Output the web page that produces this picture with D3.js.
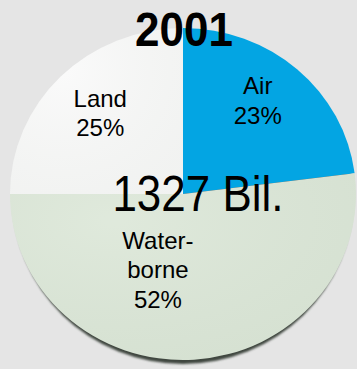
<!DOCTYPE html>
<html>
<head>
<meta charset="utf-8">
<script src="https://cdn.jsdelivr.net/npm/d3@7"></script>
<style>
  html, body { margin: 0; padding: 0; background: #e5e5e5; }
  svg { display: block; }
  text { font-family: "Liberation Sans", Arial, sans-serif; fill: #000; }
</style>
</head>
<body>
<svg id="chart" width="357" height="369"></svg>
<script>
// Freight modal split, 2001
const year = "2001";
const total = "1327 Bil.";
const modes = ["Air", "Waterborne", "Land"];
const shares = [23, 52, 25];
const labelLines = [["Air", "23%"], ["Water-", "borne", "52%"], ["Land", "25%"]];
const colors = ["#03a5e3", "#dce7d8", "#fafafa"];

const W = 357, H = 369;
const cx = 183, cy = 194, rx = 173, ry = 166;

const svg = d3.select("#chart");
const defs = svg.append("defs");

defs.append("filter").attr("id", "edgeShadow")
  .attr("x", "-10%").attr("y", "-10%").attr("width", "120%").attr("height", "120%")
  .append("feGaussianBlur").attr("stdDeviation", 1.1);

// faint shading on the pale slices
const shade = defs.append("radialGradient").attr("id", "shade")
  .attr("cx", "30%").attr("cy", "25%").attr("r", "85%");
shade.append("stop").attr("offset", "0%").attr("stop-color", "#ffffff").attr("stop-opacity", 0.1);
shade.append("stop").attr("offset", "100%").attr("stop-color", "#7f8f7c").attr("stop-opacity", 0.07);

const pie = d3.pie().sort(null).value(d => d)(shares);
const arc = d3.arc().innerRadius(0).outerRadius(rx);

// shadow under the disc
svg.append("ellipse")
  .attr("cx", cx).attr("cy", cy + 4).attr("rx", rx - 3).attr("ry", ry)
  .attr("fill", "#3f473f")
  .attr("filter", "url(#edgeShadow)");

const disc = svg.append("g")
  .attr("transform", `translate(${cx},${cy}) scale(1,${ry / rx})`);

disc.selectAll("path.slice")
  .data(pie)
  .join("path")
  .attr("class", "slice")
  .attr("d", arc)
  .attr("fill", (d, i) => colors[i]);

disc.selectAll("path.shade")
  .data(pie.filter((d, i) => i > 0))
  .join("path")
  .attr("class", "shade")
  .attr("d", arc)
  .attr("fill", "url(#shade)");

// slice labels, placed from each slice's label arc
const labelArc = d3.arc().innerRadius(110).outerRadius(110);
const nudge = [[2, -15], [-32, -30], [-5, -7]];
const lineH = 29.5;

const labels = svg.append("g").attr("transform", `translate(${cx},${cy})`);
pie.forEach((d, i) => {
  const [x, y] = labelArc.centroid(d);
  const lines = labelLines[i];
  const px = x + nudge[i][0];
  const py = y * (ry / rx) + nudge[i][1];
  const t = labels.append("text")
    .attr("text-anchor", "middle")
    .attr("font-size", 24);
  lines.forEach((s, k) => {
    t.append("tspan")
      .attr("x", px)
      .attr("y", py + (k - (lines.length - 1) / 2) * lineH + 9)
      .text(s);
  });
});

// total in the middle
svg.append("text")
  .attr("text-anchor", "middle")
  .attr("transform", `translate(198,211) scale(1,1.12)`)
  .attr("font-size", 44)
  .text(total);

// year title
svg.append("text")
  .attr("text-anchor", "middle")
  .attr("transform", `translate(184,46) scale(1,1.1)`)
  .attr("font-size", 44)
  .attr("font-weight", "bold")
  .text(year);
</script>
</body>
</html>
